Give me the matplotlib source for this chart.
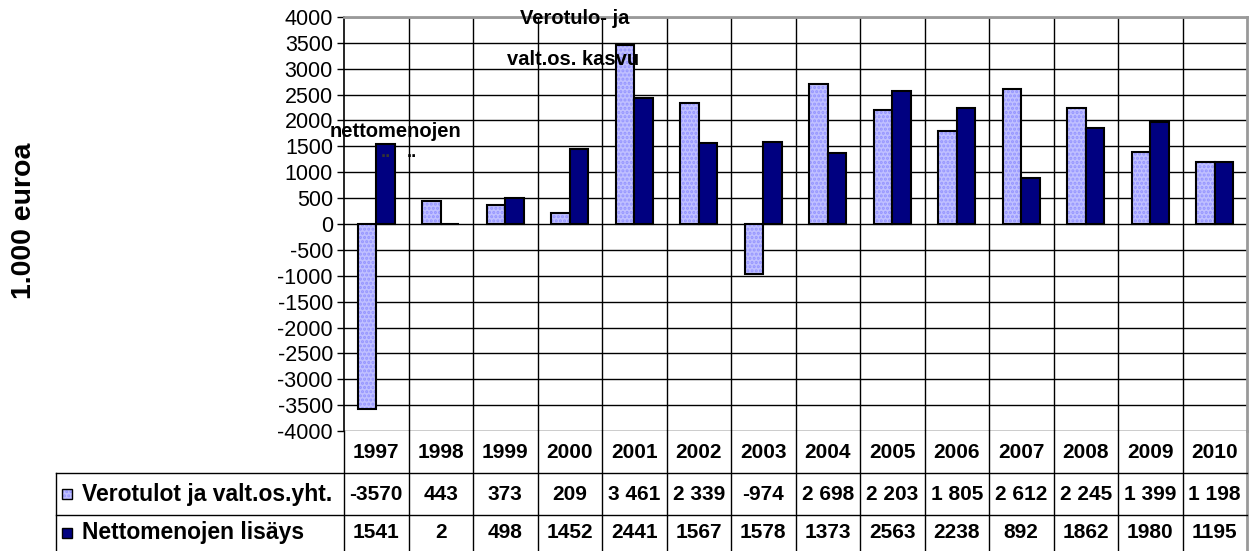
import matplotlib.pyplot as plt
import numpy as np
import matplotlib
from matplotlib.patches import Rectangle

plt.rcParams["font.family"] = "Liberation Sans"
plt.rcParams["hatch.linewidth"] = 1.5

years = ['1997', '1998', '1999', '2000', '2001', '2002', '2003',
         '2004', '2005', '2006', '2007', '2008', '2009', '2010']
verotulot = [-3570, 443, 373, 209, 3461, 2339, -974,
             2698, 2203, 1805, 2612, 2245, 1399, 1198]
verotulot_labels = ['-3570', '443', '373', '209', '3 461', '2 339', '-974',
                    '2 698', '2 203', '1 805', '2 612', '2 245', '1 399', '1 198']
netto = [1541, 2, 498, 1452, 2441, 1567, 1578,
         1373, 2563, 2238, 892, 1862, 1980, 1195]
series_names = ['Verotulot ja valt.os.yht.', 'Nettomenojen lisäys']
yticks = np.arange(-4000, 4001, 500)

light = '#C0C0FF'
light_hatch = '#9494FF'
dark = '#000080'

W, H = 1253, 551
fig = plt.figure(figsize=(W / 100, H / 100), dpi=100)

# plot area in pixels
px0, px1, py0, py1 = 344, 1247, 17, 431
ax = fig.add_axes([px0 / W, 1 - py1 / H, (px1 - px0) / W, (py1 - py0) / H])

n = len(years)
x = np.arange(n) + 0.5
bw = 0.29

ax.bar(x - bw / 2, verotulot, bw, color=light, edgecolor=light_hatch, hatch='....',
       linewidth=0, zorder=3)
ax.bar(x - bw / 2, verotulot, bw, color='none', edgecolor='black', linewidth=1.5, zorder=4)
ax.bar(x + bw / 2, netto, bw, color=dark, edgecolor='black', linewidth=1.5, zorder=4)

ax.set_xlim(0, n)
ax.set_ylim(-4000, 4000)
ax.set_yticks(yticks)
ax.set_yticklabels([str(v) for v in yticks], fontsize=15.5)
ax.set_xticks([])
ax.tick_params(axis='y', length=5, width=1, pad=3)

for v in yticks:
    ax.axhline(v, color='black', linewidth=1, zorder=1)
for i in range(1, n):
    ax.axvline(i, color='black', linewidth=1, zorder=1)

for side in ['top', 'right']:
    ax.spines[side].set_color('#999999')
    ax.spines[side].set_linewidth(2)
ax.spines['bottom'].set_visible(False)
ax.spines['left'].set_linewidth(1.2)

# stray category labels inside plot
ann = dict(fontsize=14.5, fontweight='bold', ha='left', va='center', zorder=5)
ax.text(2.73, 3980, 'Verotulo- ja', **ann)
ax.text(2.52, 3170, 'valt.os. kasvu', **ann)
ax.text(-0.22, 1780, 'nettomenojen', **ann)
ax.text(0.65, 1390, '..', fontsize=13, fontweight='bold', color='#333333',
        ha='center', va='center', zorder=5)
ax.text(1.05, 1390, '..', fontsize=13, fontweight='bold', ha='center', va='center', zorder=5)

fig.text(24 / W, 1 - 221 / H, '1.000 euroa', rotation=90, fontsize=20.5,
         fontweight='bold', ha='center', va='center')

# data table below the plot, drawn in pixel coordinates
tab = fig.add_axes([0, 0, 1, 1])
tab.set_xlim(0, W)
tab.set_ylim(H, 0)
tab.axis('off')
tab.patch.set_alpha(0)

cw = (px1 - px0) / n
row_y = [431, 473, 515, 557]
leg_x = 56

for i in range(n + 1):
    xx = px0 + i * cw
    col = '#999999' if i == n else 'black'
    lw = 2 if i == n else 1
    tab.plot([xx, xx], [py1, H], color=col, linewidth=lw)
tab.plot([leg_x, px1], [row_y[1], row_y[1]], color='black', linewidth=1)
tab.plot([leg_x, px1], [row_y[2], row_y[2]], color='black', linewidth=1)
tab.plot([leg_x, leg_x], [row_y[1], H], color='black', linewidth=1)

for i in range(n):
    cx = px0 + (i + 0.5) * cw
    tab.text(cx, (row_y[0] + row_y[1]) / 2, years[i], fontsize=15, fontweight='bold',
             ha='center', va='center')
    tab.text(cx, (row_y[1] + row_y[2]) / 2, verotulot_labels[i], fontsize=15,
             fontweight='bold', ha='center', va='center')
    tab.text(cx, (row_y[2] + row_y[3]) / 2 - 3, str(netto[i]), fontsize=15,
             fontweight='bold', ha='center', va='center')

# legend keys
ky1 = (row_y[1] + row_y[2]) / 2
ky2 = (row_y[2] + row_y[3]) / 2 - 3
tab.add_patch(Rectangle((62, ky1 - 5), 10, 10, facecolor=light, edgecolor=light_hatch,
                        hatch='....', linewidth=0))
tab.add_patch(Rectangle((62, ky1 - 5), 10, 10, facecolor='none', edgecolor='black', linewidth=1))
tab.add_patch(Rectangle((62, ky2 - 5), 10, 10, facecolor=dark, edgecolor='black', linewidth=1))
tab.text(82, ky1, series_names[0], fontsize=16.5, fontweight='bold', ha='left', va='center')
tab.text(82, ky2, series_names[1], fontsize=16.5, fontweight='bold', ha='left', va='center')

fig.savefig('out.png', dpi=100)
